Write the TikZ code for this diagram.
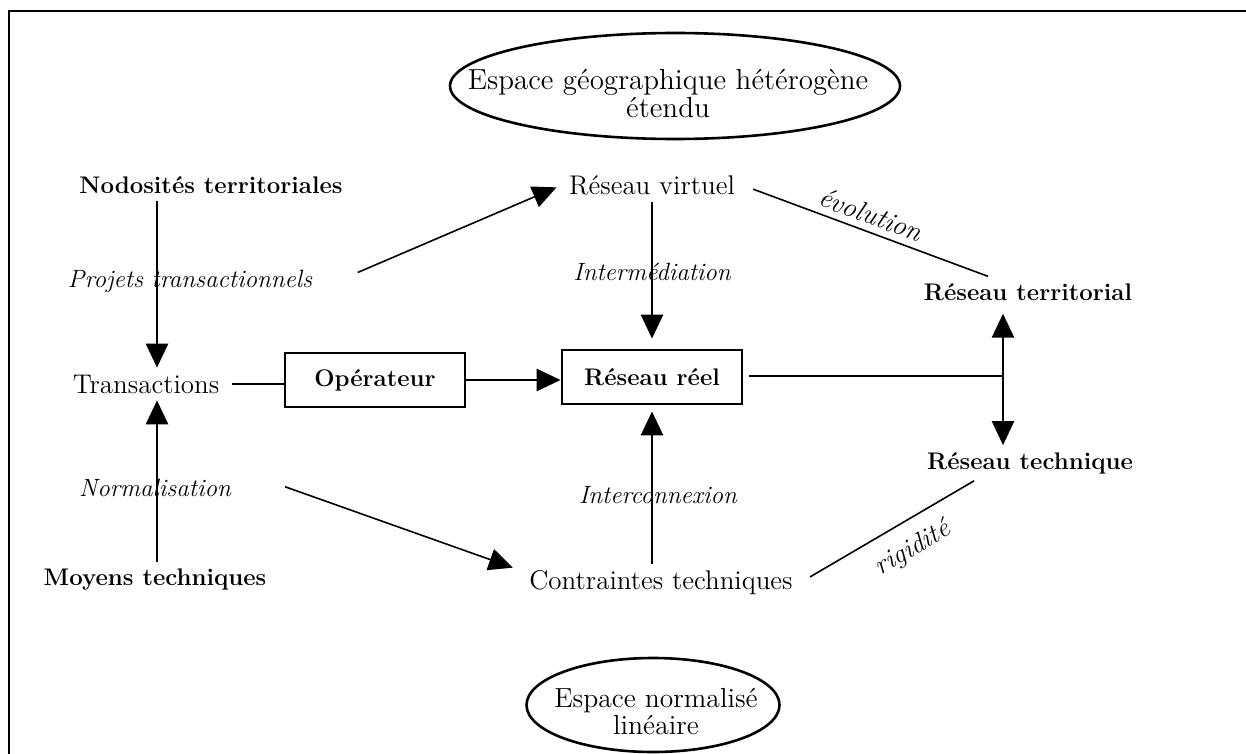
\documentclass[tikz,border=0pt]{standalone}
\usetikzlibrary{arrows.meta}

\begin{document}
\begin{tikzpicture}[x=0.5pt, y=-0.5pt, >={Triangle[width=11pt,length=12pt]}]
    \tikzset{
        plain/.style = {font=\fontsize{13.5}{15}\selectfont},
        heavy/.style = {font=\bfseries\fontsize{12}{14}\selectfont},
        slant/.style = {font=\itshape\fontsize{12.5}{14}\selectfont},
        framed/.style = {heavy, draw, line width=1.4pt, minimum width=90pt, minimum height=27pt},
        thickline/.style = {line width=1.3pt},
        thinline/.style = {line width=0.8pt}
    }
    \useasboundingbox (0,0) rectangle (1246,754);
    \draw[line width=1.3pt] (1246,11) -- (9,11) -- (9,754);

    % the two spaces
    \node[align=center, font=\fontsize{14.5}{14}\selectfont] (geo) at (668,94)
        {Espace géographique hétérogène\\étendu};
    \draw[line width=1.3pt] (675,86) ellipse [x radius=112.5pt, y radius=26.5pt];
    \node[align=center, font=\fontsize{13.8}{13.5}\selectfont] (lin) at (656,712)
        {Espace normalisé\\linéaire};
    \draw[line width=1.3pt] (653,705) ellipse [x radius=63.25pt, y radius=23.5pt];

    % left column
    \node[heavy] (nod) at (211,185) {Nodosités territoriales};
    \node[slant] (proj) at (190,281) {Projets transactionnels};
    \node[plain] (trans) at (146,384) {Transactions};
    \node[slant] (norm) at (155,488) {Normalisation};
    \node[heavy] (moy) at (155,580) {Moyens techniques};
    \node[framed] (op) at (375,380) {Opérateur};

    % middle column
    \node[plain] (virt) at (652,185) {Réseau virtuel};
    \node[slant] (inter) at (652,272) {Intermédiation};
    \node[framed] (reel) at (652,377) {Réseau réel};
    \node[slant] (icx) at (658,495) {Interconnexion};
    \node[plain] (contr) at (661,583) {Contraintes techniques};

    % right column
    \node[heavy] (terr) at (1028,292) {Réseau territorial};
    \node[heavy] (tech) at (1030,463) {Réseau technique};

    \coordinate (colL) at (157,0);
    \coordinate (hub) at (1003,376);

    \draw[thickline,->] (nod.south -| colL) -- (trans.north -| colL);
    \draw[thickline,->] (moy.north -| colL) -- (trans.south -| colL);
    \draw[thickline,shorten <=3pt] (trans.east) -- (trans.east -| op.west);
    \draw[thickline,->] (op.east) -- (op.east -| reel.west);
    \draw[thickline,shorten <=3pt] (reel.east |- hub) -- (hub);
    \draw[thickline,<->,shorten <=3pt] (terr.south -| hub) -- (tech.north -| hub);
    \draw[thickline,->,shorten >=5pt] (virt.south) -- (reel.north);
    \draw[thickline,->,shorten >=3pt] (contr.north -| reel.south) -- (reel.south);

    \draw[thinline,->,shorten <=21pt,shorten >=3pt] ([yshift=-4pt]proj.east) -- (virt.west);
    \draw[thinline,->,shorten <=25pt,shorten >=5pt] ([yshift=9pt]norm.east) -- ([yshift=6pt]contr.west);
    \draw[thinline,shorten <=6pt] (virt.east) -- ([xshift=-20pt]terr.north)
        node[midway, sloped, above, font=\itshape\fontsize{14}{14}\selectfont] (evo) {évolution};
    \draw[thinline,shorten <=6pt] (contr.east) -- ([xshift=-28pt]tech.south)
        node[pos=0.57, sloped, below=4pt, font=\itshape\fontsize{13.5}{14}\selectfont] (rig) {rigidité};
\end{tikzpicture}
\end{document}
